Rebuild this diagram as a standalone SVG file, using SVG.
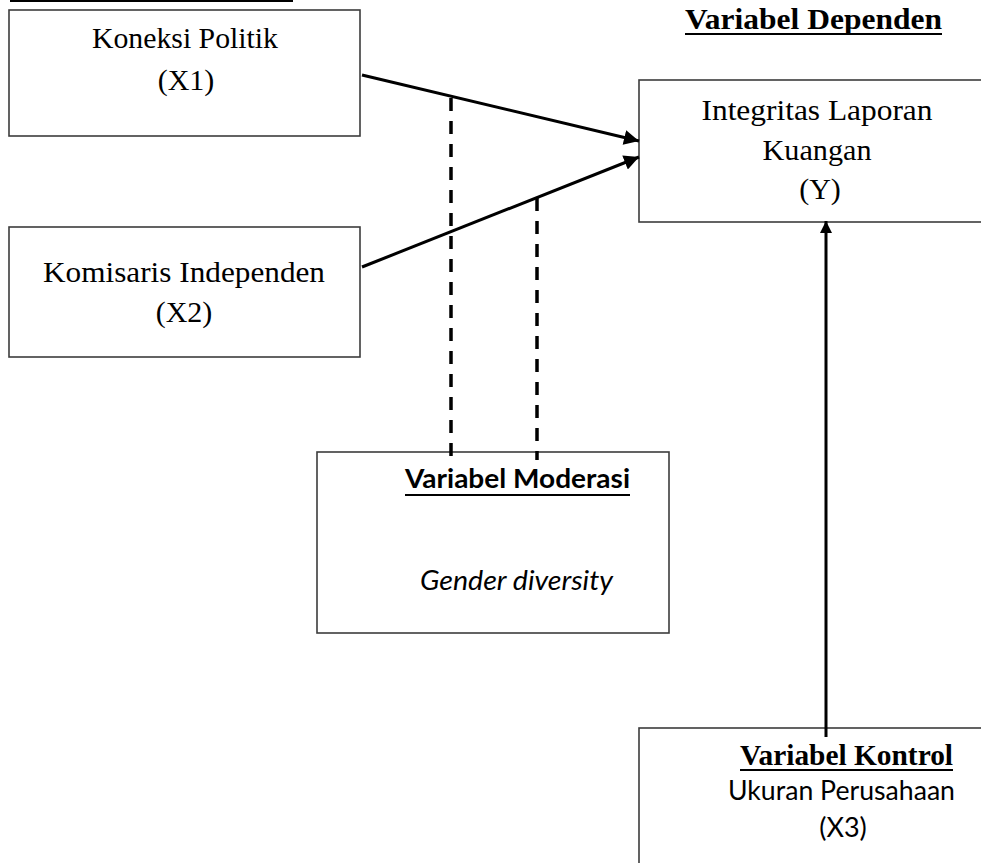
<svg xmlns="http://www.w3.org/2000/svg" width="981" height="863" viewBox="0 0 981 863">
<style>
.box{fill:#fff;stroke:#3c3c3c;stroke-width:1.6}
.serif{font-family:"Liberation Serif","Times New Roman",serif;fill:#000}
.sans{font-family:"Lato","Liberation Sans",sans-serif;fill:#000}
.reg{font-size:30px}
.hb{font-weight:bold}
.ul{stroke:#000;stroke-width:2}
.arrow{stroke:#000;stroke-width:3;fill:none}
.dash{stroke:#000;stroke-width:3.5;stroke-dasharray:13 10;fill:none}
</style>
<defs>
<marker id="ah" viewBox="0 0 10 10" refX="10" refY="5" markerWidth="5.2" markerHeight="5" markerUnits="strokeWidth" orient="auto">
<path d="M0,0 L10,5 L0,10 Z" fill="#000"/>
</marker>
<marker id="ah2" viewBox="0 0 10 10" refX="10" refY="5" markerWidth="4" markerHeight="4" markerUnits="strokeWidth" orient="auto">
<path d="M0,0 L10,5 L0,10 Z" fill="#000"/>
</marker>
</defs>
<rect width="981" height="863" fill="#fff"/>

<g id="heading-independen">
<text class="serif hb" x="151.5" y="-4" font-size="28" text-anchor="middle" textLength="283" lengthAdjust="spacingAndGlyphs">Variabel Independen</text>
<line class="ul" x1="10" y1="1" x2="293" y2="1"/>
</g>

<g id="heading-dependen">
<text class="serif hb" x="813.5" y="29" font-size="29" text-anchor="middle" textLength="257" lengthAdjust="spacingAndGlyphs">Variabel Dependen</text>
<line class="ul" x1="685" y1="34" x2="942" y2="34"/>
</g>

<g id="node-x1">
<rect class="box" x="9" y="10" width="351" height="126"/>
<text class="serif reg" x="185" y="48" text-anchor="middle" textLength="186" lengthAdjust="spacingAndGlyphs">Koneksi Politik</text>
<text class="serif reg" x="186" y="90" text-anchor="middle">(X1)</text>
</g>

<g id="node-x2">
<rect class="box" x="9" y="227" width="351" height="130"/>
<text class="serif reg" x="184" y="282" text-anchor="middle" textLength="282" lengthAdjust="spacingAndGlyphs">Komisaris Independen</text>
<text class="serif reg" x="184" y="322" text-anchor="middle">(X2)</text>
</g>

<g id="node-y">
<rect class="box" x="639" y="80" width="360" height="142"/>
<text class="serif reg" x="817" y="120" text-anchor="middle" textLength="231" lengthAdjust="spacingAndGlyphs">Integritas Laporan</text>
<text class="serif reg" x="817" y="160" text-anchor="middle" textLength="109" lengthAdjust="spacingAndGlyphs">Kuangan</text>
<text class="serif reg" x="820" y="199" text-anchor="middle">(Y)</text>
</g>

<g id="node-moderasi">
<rect class="box" x="317" y="452" width="352" height="181"/>
<text class="sans" x="517.5" y="488" font-size="27" font-weight="bold" text-anchor="middle" textLength="225" lengthAdjust="spacingAndGlyphs">Variabel Moderasi</text>
<line class="ul" x1="405" y1="495" x2="630" y2="495"/>
<text class="sans" x="516.5" y="590" font-size="27" font-style="italic" text-anchor="middle" textLength="193" lengthAdjust="spacingAndGlyphs">Gender diversity</text>
</g>

<g id="node-kontrol">
<rect class="box" x="639" y="728" width="360" height="160"/>
<text class="serif hb" x="846.5" y="765" font-size="30" text-anchor="middle" textLength="213" lengthAdjust="spacingAndGlyphs">Variabel Kontrol</text>
<line class="ul" x1="740" y1="770" x2="953" y2="770"/>
<text class="sans" x="841.5" y="800" font-size="27" text-anchor="middle" textLength="227" lengthAdjust="spacingAndGlyphs">Ukuran Perusahaan</text>
<text class="sans" x="843" y="837" font-size="27" text-anchor="middle">(X3)</text>
</g>

<g id="connectors">
<line class="arrow" x1="362" y1="75" x2="639" y2="141" marker-end="url(#ah)"/>
<line class="arrow" x1="362" y1="267" x2="639" y2="157" marker-end="url(#ah)"/>
<line class="dash" x1="451" y1="98" x2="451" y2="461"/>
<line class="dash" x1="537" y1="198" x2="537" y2="460"/>
<line class="arrow" stroke-width="4" x1="826" y1="737" x2="826" y2="221" marker-end="url(#ah2)"/>
</g>
</svg>
